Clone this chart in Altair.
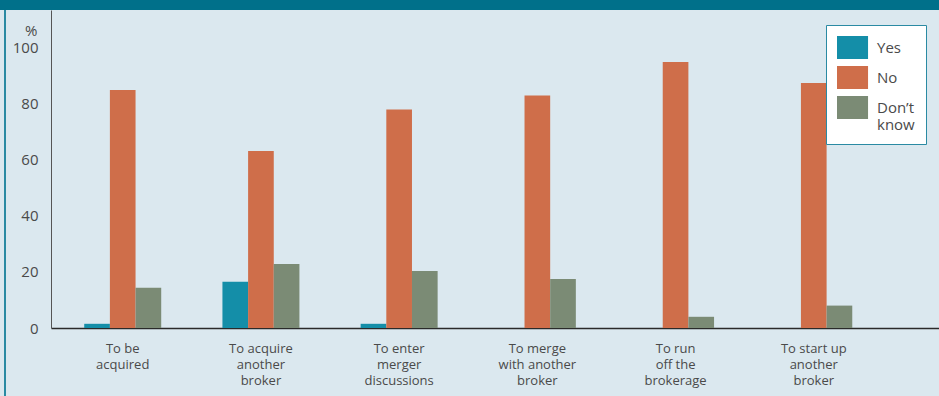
import altair as alt
import pandas as pd

categories = [
    "To be|acquired",
    "To acquire|another|broker",
    "To enter|merger|discussions",
    "To merge|with another|broker",
    "To run|off the|brokerage",
    "To start up|another|broker",
]
responses = ["Yes", "No", "Don’t know"]
yes_vals = [1.5, 16.5, 1.5, 0, 0, 0]
no_vals = [85, 63.2, 78, 83, 95, 87.5]
dk_vals = [14.4, 22.9, 20.4, 17.5, 4, 8]
y_ticks = [0, 20, 40, 60, 80, 100]
colors = ["#148ea8", "#cf6e4a", "#7b8b75"]

rows = []
for i, c in enumerate(categories):
    for r, vals in zip(responses, [yes_vals, no_vals, dk_vals]):
        rows.append({"category": c, "response": r, "value": vals[i]})
df = pd.DataFrame(rows)

FONT = "Open Sans"
TXT = "#4a4a4a"

bars = alt.Chart(df).mark_bar().encode(
    x=alt.X(
        "category:N",
        sort=categories,
        scale=alt.Scale(paddingInner=0.443, paddingOuter=0.434, align=0.277),
        axis=alt.Axis(
            title=None,
            labelAngle=0,
            labelExpr="split(datum.label, '|')",
            ticks=False,
            labelPadding=14,
            labelFontSize=13,
            labelLineHeight=16,
            labelColor=TXT,
            labelFont=FONT,
            labelBaseline="top",
            domainColor="#2a2a2a",
            domainWidth=1.5,
        ),
    ),
    xOffset=alt.XOffset("response:N", sort=responses,
                        scale=alt.Scale(domain=responses, paddingInner=0, paddingOuter=0)),
    y=alt.Y(
        "value:Q",
        scale=alt.Scale(domain=[0, 113.57], nice=False),
        axis=alt.Axis(
            values=y_ticks,
            grid=False,
            ticks=False,
            labelPadding=13,
            labelFontSize=15,
            labelColor=TXT,
            labelFont=FONT,
            domainColor="#555555",
            domainWidth=1,
            title="%",
            titleAngle=0,
            titleAlign="right",
            titleBaseline="middle",
            titleX=-14,
            titleY=20,
            titleFontSize=15,
            titleFontWeight="normal",
            titleColor=TXT,
            titleFont=FONT,
        ),
    ),
    color=alt.Color(
        "response:N",
        sort=responses,
        scale=alt.Scale(domain=responses, range=colors),
        legend=alt.Legend(
            title=None,
            orient="none",
            legendX=775,
            legendY=15,
            fillColor="white",
            strokeColor="#2a8aa3",
            padding=11,
            symbolType="M-1,-1L1.7,-1L1.7,1L-1,1Z",
            symbolSize=529,
            symbolStrokeWidth=0,
            symbolOpacity=1,
            labelFontSize=15,
            labelFont=FONT,
            labelColor=TXT,
            labelOffset=17,
            rowPadding=7,
            labelExpr="datum.label == 'Don’t know' ? ['Don’t', 'know'] : datum.label",
        ),
    ),
)

deco = pd.DataFrame({"k": [0]})
band = alt.Chart(deco).mark_rule(color="#00708a", strokeWidth=10).encode(
    x=alt.value(-51), x2=alt.value(888), y=alt.value(-5)
)
border = alt.Chart(deco).mark_rule(color="#2a8aa3", strokeWidth=2).encode(
    x=alt.value(-46), y=alt.value(0), y2=alt.value(386)
)

chart = alt.layer(bars, band, border).properties(
    width=888,
    height=318,
    autosize=alt.AutoSizeParams(type="none"),
    padding={"left": 51, "top": 10, "right": 0, "bottom": 68},
    background="#dbe8ef",
).configure_view(stroke=None)

chart.save("out.html", embed_options={"renderer": "svg", "actions": False})
